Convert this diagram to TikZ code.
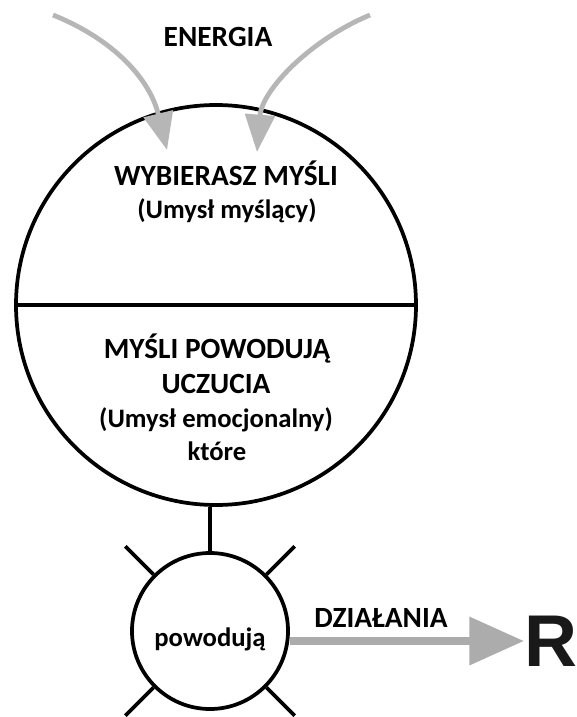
\documentclass[tikz,border=0pt]{standalone}
\usepackage{fontspec}
\setmainfont{Carlito}
\newfontfamily\arialfont{Liberation Sans}
\usetikzlibrary{arrows.meta,calc}
\definecolor{szary}{RGB}{172,172,172}
\definecolor{jasnoszary}{RGB}{182,182,182}

\begin{document}
\begin{tikzpicture}[x=0.75pt,y=-0.75pt,
  kolo/.style={circle,draw,line width=2.8pt,inner sep=0pt},
  kreska/.style={line width=2.8pt},
  napis/.style={font=\fontsize{20}{24}\selectfont\bfseries,inner sep=0pt,anchor=base},
  duzy/.style={napis,font=\fontsize{22}{26}\selectfont\bfseries},
  energia/.style={draw=jasnoszary,line width=3.6pt,-{Triangle[length=28pt,width=22pt]}},
  dzialanie/.style={draw=szary,line width=6pt,-{Triangle[length=41pt,width=35pt]}}]
\clip (0,0) rectangle (577,717);
\fill[white] (0,0) rectangle (577,717);

% umysl i dzialanie
\node[kolo,minimum size=300pt] (umysl) at (216,305) {};
\draw[kreska] (umysl.west) -- (umysl.east);
\node[kolo,minimum size=117pt] (kolko) at (210,631) {};
\draw[kreska] (kolko.north) -- (kolko.north |- umysl.south);
\foreach \a in {45,135,225,315}
  \draw[kreska] (kolko.\a) -- ($(kolko.center)!1.5!(kolko.\a)$);

% energia
\coordinate (startL) at (53,15);
\coordinate (celL) at (167,150);
\coordinate (startP) at (370,15);
\coordinate (celP) at (257,152);
\draw[energia] (startL) .. controls (115,40) and (150,80) .. (celL);
\draw[energia] (startP) .. controls (310,40) and (262,90) .. (celP);
\node[duzy] (energiaTxt) at (218,47) {ENERGIA};

% teksty
\node[duzy] (wybierasz) at (226,185) {WYBIERASZ MYŚLI};
\node[napis] (myslacy) at (227,218) {(Umysł myślący)};
\node[duzy] (powodujaA) at (217,358) {MYŚLI POWODUJĄ};
\node[duzy] (uczucia) at (216,393) {UCZUCIA};
\node[napis] (emocje) at (216,427) {(Umysł emocjonalny)};
\node[napis] (ktore) at (217,460) {które};
\node[napis] (powodujaB) at (210,646) {powodują};

% wynik
\node[inner sep=0pt,anchor=west,font=\fontsize{55}{58}\selectfont\arialfont\bfseries,text=black!90] (wynik) at (524,641) {R};
\draw[dzialanie] (kolko.east |- wynik.west) -- (wynik.west);
\node[duzy] (dzialania) at (381,627) {DZIAŁANIA};
\end{tikzpicture}
\end{document}
